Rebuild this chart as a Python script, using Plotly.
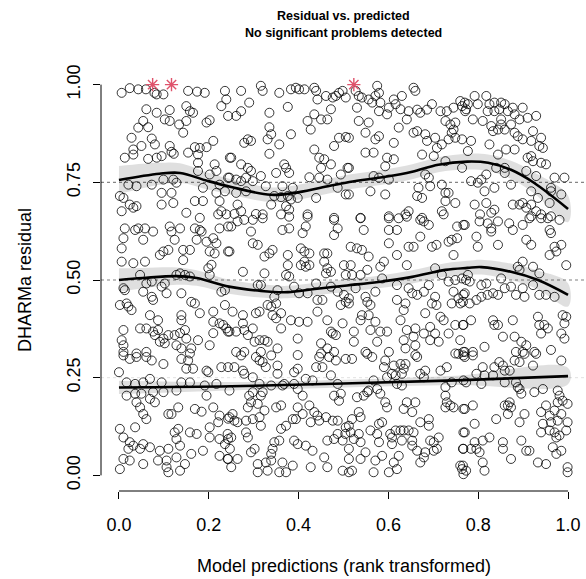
import plotly.graph_objects as go

# Scaled residuals against rank-transformed predictions, grouped by residual range
upper_points = [
    (0.006,0.979),(0.024,0.991),(0.043,0.988),(0.060,0.988),(0.079,0.979),(0.084,0.975),(0.099,0.975),
    (0.154,0.984),(0.174,0.982),(0.191,0.979),(0.236,0.984),(0.239,0.962),(0.228,0.945),(0.243,0.920),
    (0.061,0.937),(0.084,0.928),(0.113,0.935),(0.150,0.945),(0.158,0.932),(0.165,0.928),(0.054,0.907),
    (0.102,0.911),(0.113,0.907),(0.134,0.898),(0.150,0.907),(0.202,0.909),(0.195,0.903),(0.043,0.890),
    (0.065,0.891),(0.143,0.877),(0.028,0.864),(0.073,0.862),(0.080,0.847),(0.050,0.843),(0.113,0.843),
    (0.210,0.856),(0.013,0.813),(0.032,0.821),(0.032,0.834),(0.065,0.810),(0.084,0.813),(0.095,0.817),
    (0.117,0.828),(0.122,0.823),(0.154,0.826),(0.169,0.840),(0.180,0.838),(0.195,0.840),(0.176,0.821),
    (0.247,0.813),(0.176,0.800),(0.213,0.796),(0.217,0.779),(0.202,0.770),(0.176,0.779),(0.243,0.762),
    (0.021,0.744),(0.039,0.740),(0.073,0.744),(0.099,0.757),(0.121,0.757),(0.128,0.749),(0.187,0.736),
    (0.224,0.744),(0.002,0.715),(0.010,0.710),(0.095,0.723),(0.117,0.723),(0.217,0.723),(0.236,0.727),
    (0.024,0.693),(0.032,0.685),(0.039,0.689),(0.095,0.693),(0.121,0.697),(0.169,0.702),(0.187,0.702),
    (0.224,0.702),(0.006,0.676),(0.150,0.672),(0.228,0.676),(0.239,0.668),(0.221,0.668),(0.180,0.659),
    (0.272,0.984),(0.316,0.997),(0.320,0.984),(0.357,0.979),(0.383,0.988),(0.394,0.992),(0.401,0.988),
    (0.413,0.988),(0.435,0.992),(0.439,0.984),(0.442,0.962),(0.461,0.971),(0.476,0.967),(0.483,0.971),
    (0.490,0.979),(0.498,0.984),(0.505,0.967),(0.290,0.954),(0.272,0.932),(0.261,0.920),(0.335,0.928),
    (0.376,0.943),(0.435,0.924),(0.450,0.911),(0.464,0.911),(0.472,0.937),(0.420,0.907),(0.427,0.885),
    (0.335,0.891),(0.339,0.873),(0.331,0.860),(0.287,0.860),(0.294,0.856),(0.279,0.851),(0.357,0.847),
    (0.383,0.873),(0.490,0.864),(0.505,0.866),(0.479,0.843),(0.435,0.834),(0.335,0.823),(0.250,0.813),
    (0.272,0.796),(0.287,0.787),(0.294,0.779),(0.316,0.766),(0.350,0.774),(0.368,0.796),(0.372,0.787),
    (0.379,0.774),(0.446,0.813),(0.457,0.809),(0.450,0.787),(0.472,0.796),(0.509,0.787),(0.424,0.763),
    (0.446,0.762),(0.464,0.757),(0.494,0.770),(0.246,0.762),(0.261,0.757),(0.272,0.753),(0.283,0.762),
    (0.298,0.753),(0.327,0.740),(0.364,0.740),(0.387,0.736),(0.261,0.723),(0.283,0.727),(0.346,0.715),
    (0.361,0.712),(0.376,0.715),(0.383,0.706),(0.398,0.710),(0.439,0.710),(0.487,0.736),(0.505,0.719),
    (0.264,0.693),(0.272,0.676),(0.305,0.669),(0.339,0.693),(0.372,0.689),(0.379,0.680),(0.361,0.668),
    (0.420,0.668),(0.479,0.659),(0.320,0.668),(0.257,0.669),
    (0.527,0.984),(0.534,0.971),(0.575,0.997),(0.579,0.979),(0.571,0.971),(0.541,0.967),(0.556,0.962),
    (0.564,0.954),(0.582,0.954),(0.612,0.962),(0.630,0.971),(0.616,0.950),(0.627,0.937),(0.656,0.992),
    (0.660,0.984),(0.530,0.941),(0.601,0.941),(0.579,0.932),(0.597,0.924),(0.645,0.932),(0.641,0.911),
    (0.664,0.936),(0.671,0.928),(0.697,0.950),(0.686,0.936),(0.716,0.932),(0.730,0.932),(0.745,0.941),
    (0.760,0.958),(0.764,0.945),(0.771,0.932),(0.727,0.907),(0.738,0.898),(0.749,0.903),(0.745,0.885),
    (0.741,0.877),(0.734,0.860),(0.534,0.907),(0.556,0.903),(0.512,0.864),(0.549,0.877),(0.579,0.868),
    (0.571,0.860),(0.612,0.851),(0.623,0.890),(0.656,0.877),(0.664,0.881),(0.682,0.873),(0.686,0.856),
    (0.704,0.864),(0.719,0.847),(0.708,0.838),(0.749,0.864),(0.764,0.860),(0.549,0.826),(0.567,0.826),
    (0.597,0.813),(0.593,0.791),(0.612,0.809),(0.675,0.821),(0.701,0.817),(0.727,0.804),(0.764,0.787),
    (0.512,0.787),(0.567,0.766),(0.579,0.762),(0.601,0.757),(0.682,0.770),(0.690,0.762),(0.693,0.740),
    (0.667,0.736),(0.719,0.744),(0.727,0.723),(0.734,0.723),(0.512,0.719),(0.560,0.727),(0.593,0.719),
    (0.664,0.715),(0.675,0.710),(0.749,0.697),(0.727,0.702),(0.538,0.659),(0.601,0.663),(0.638,0.668),
    (0.645,0.676),(0.719,0.676),(0.723,0.668),(0.675,0.659),
    (0.792,0.971),(0.818,0.971),(0.770,0.954),(0.777,0.950),(0.773,0.937),(0.799,0.950),(0.825,0.950),
    (0.836,0.954),(0.851,0.954),(0.859,0.950),(0.877,0.941),(0.899,0.941),(0.821,0.932),(0.836,0.932),
    (0.847,0.937),(0.866,0.932),(0.881,0.924),(0.788,0.911),(0.810,0.907),(0.851,0.911),(0.851,0.898),
    (0.829,0.894),(0.833,0.881),(0.844,0.885),(0.859,0.885),(0.873,0.898),(0.892,0.911),(0.910,0.915),
    (0.929,0.920),(0.881,0.877),(0.888,0.868),(0.899,0.860),(0.918,0.856),(0.922,0.881),(0.940,0.864),
    (0.936,0.843),(0.944,0.838),(0.784,0.856),(0.825,0.847),(0.777,0.830),(0.844,0.821),(0.862,0.834),
    (0.881,0.834),(0.910,0.813),(0.922,0.804),(0.918,0.817),(0.940,0.800),(0.951,0.796),(0.840,0.787),
    (0.859,0.787),(0.859,0.774),(0.818,0.770),(0.807,0.757),(0.784,0.753),(0.799,0.749),(0.836,0.736),
    (0.814,0.727),(0.873,0.744),(0.907,0.779),(0.929,0.766),(0.970,0.762),(0.992,0.762),(0.962,0.736),
    (0.962,0.727),(0.985,0.719),(0.918,0.727),(0.933,0.710),(0.959,0.697),(0.877,0.693),(0.892,0.693),
    (0.899,0.697),(0.907,0.685),(0.918,0.693),(0.929,0.676),(0.792,0.693),(0.818,0.697),(0.804,0.668),
    (0.829,0.672),(0.836,0.680),(0.918,0.663),(0.940,0.668),(0.962,0.663),
]

middle_points = [
    (0.013,0.632),(0.036,0.628),(0.043,0.632),(0.058,0.632),(0.076,0.624),(0.113,0.637),(0.117,0.624),
    (0.136,0.632),(0.169,0.632),(0.180,0.628),(0.184,0.624),(0.224,0.632),(0.243,0.637),(0.010,0.607),
    (0.054,0.603),(0.124,0.603),(0.173,0.603),(0.195,0.598),(0.210,0.607),(0.217,0.594),(0.006,0.581),
    (0.099,0.573),(0.091,0.564),(0.110,0.577),(0.143,0.577),(0.158,0.577),(0.202,0.573),(0.213,0.568),
    (0.243,0.573),(0.006,0.547),(0.032,0.543),(0.058,0.547),(0.143,0.551),(0.206,0.539),(0.199,0.530),
    (0.047,0.513),(0.128,0.513),(0.136,0.517),(0.147,0.513),(0.158,0.509),(0.202,0.513),(0.010,0.479),
    (0.013,0.474),(0.061,0.491),(0.073,0.496),(0.095,0.483),(0.102,0.491),(0.054,0.470),(0.106,0.466),
    (0.139,0.466),(0.228,0.470),(0.236,0.474),(0.073,0.457),(0.076,0.449),(0.161,0.444),(0.169,0.440),
    (0.002,0.436),(0.017,0.440),(0.021,0.432),(0.028,0.423),(0.069,0.410),(0.180,0.415),(0.210,0.419),
    (0.236,0.436),(0.139,0.410),(0.139,0.397),(0.010,0.372),(0.047,0.376),(0.061,0.376),(0.076,0.368),
    (0.087,0.397),(0.087,0.372),(0.210,0.393),(0.224,0.389),(0.232,0.385),(0.239,0.376),(0.243,0.368),
    (0.110,0.359),(0.124,0.359),(0.136,0.364),(0.147,0.372),(0.150,0.350),(0.176,0.346),(0.210,0.364),
    (0.006,0.346),(0.010,0.333),(0.080,0.359),(0.091,0.342),(0.102,0.338),(0.099,0.350),(0.128,0.333),
    (0.139,0.325),(0.161,0.325),(0.202,0.333),(0.010,0.316),(0.039,0.312),(0.061,0.316),(0.158,0.312),
    (0.250,0.637),(0.264,0.650),(0.279,0.654),(0.298,0.654),(0.320,0.658),(0.379,0.662),(0.420,0.662),
    (0.416,0.637),(0.479,0.654),(0.487,0.632),(0.479,0.615),(0.364,0.628),(0.379,0.632),(0.409,0.620),
    (0.294,0.624),(0.298,0.594),(0.309,0.590),(0.246,0.573),(0.324,0.560),(0.335,0.568),(0.342,0.577),
    (0.376,0.564),(0.376,0.538),(0.405,0.581),(0.413,0.573),(0.424,0.568),(0.457,0.568),(0.464,0.568),
    (0.413,0.547),(0.416,0.534),(0.424,0.538),(0.405,0.538),(0.457,0.547),(0.464,0.530),(0.461,0.517),
    (0.472,0.521),(0.501,0.538),(0.505,0.513),(0.276,0.521),(0.324,0.517),(0.372,0.513),(0.379,0.509),
    (0.309,0.487),(0.316,0.487),(0.353,0.474),(0.346,0.457),(0.390,0.483),(0.401,0.466),(0.420,0.466),
    (0.439,0.491),(0.442,0.449),(0.453,0.449),(0.472,0.483),(0.487,0.470),(0.501,0.462),(0.505,0.444),
    (0.253,0.419),(0.276,0.410),(0.276,0.389),(0.305,0.415),(0.313,0.419),(0.331,0.436),(0.339,0.432),
    (0.350,0.440),(0.342,0.410),(0.350,0.402),(0.361,0.415),(0.383,0.397),(0.401,0.393),(0.420,0.393),
    (0.442,0.419),(0.464,0.397),(0.494,0.436),(0.498,0.389),(0.246,0.368),(0.261,0.368),(0.279,0.372),
    (0.298,0.376),(0.287,0.359),(0.302,0.342),(0.313,0.346),(0.324,0.346),(0.331,0.342),(0.361,0.376),
    (0.398,0.350),(0.450,0.338),(0.464,0.325),(0.472,0.368),(0.476,0.363),(0.483,0.359),(0.261,0.316),
    (0.279,0.316),(0.316,0.316),(0.353,0.325),(0.398,0.308),(0.450,0.312),(0.479,0.316),
    (0.538,0.658),(0.601,0.658),(0.623,0.658),(0.641,0.662),(0.671,0.654),(0.679,0.650),(0.690,0.641),
    (0.545,0.628),(0.601,0.628),(0.619,0.628),(0.671,0.611),(0.753,0.637),(0.767,0.641),(0.516,0.585),
    (0.530,0.581),(0.541,0.577),(0.556,0.560),(0.601,0.594),(0.645,0.585),(0.656,0.585),(0.697,0.585),
    (0.707,0.590),(0.734,0.598),(0.741,0.603),(0.753,0.607),(0.745,0.564),(0.590,0.547),(0.582,0.534),
    (0.619,0.564),(0.641,0.538),(0.516,0.538),(0.519,0.513),(0.538,0.513),(0.553,0.526),(0.719,0.513),
    (0.749,0.500),(0.764,0.504),(0.704,0.530),(0.586,0.504),(0.619,0.487),(0.527,0.479),(0.645,0.479),
    (0.653,0.466),(0.664,0.462),(0.679,0.470),(0.690,0.487),(0.704,0.457),(0.734,0.496),(0.745,0.470),
    (0.756,0.453),(0.767,0.462),(0.512,0.453),(0.512,0.440),(0.549,0.457),(0.571,0.470),(0.553,0.444),
    (0.560,0.436),(0.619,0.449),(0.638,0.440),(0.634,0.423),(0.697,0.440),(0.707,0.436),(0.741,0.440),
    (0.760,0.440),(0.541,0.410),(0.556,0.410),(0.538,0.397),(0.571,0.393),(0.560,0.372),(0.582,0.368),
    (0.597,0.368),(0.627,0.397),(0.641,0.372),(0.660,0.376),(0.682,0.415),(0.716,0.406),(0.723,0.397),
    (0.693,0.380),(0.679,0.363),(0.704,0.363),(0.734,0.363),(0.749,0.385),(0.767,0.385),(0.523,0.368),
    (0.523,0.342),(0.575,0.342),(0.634,0.346),(0.638,0.325),(0.656,0.355),(0.660,0.333),(0.693,0.346),
    (0.712,0.342),(0.760,0.346),(0.549,0.316),(0.601,0.316),(0.660,0.308),(0.749,0.312),(0.767,0.316),
    (0.770,0.641),(0.803,0.650),(0.821,0.645),(0.829,0.632),(0.829,0.624),(0.844,0.650),(0.869,0.645),
    (0.877,0.628),(0.899,0.641),(0.914,0.658),(0.940,0.658),(0.955,0.658),(0.981,0.654),(0.959,0.628),
    (0.962,0.620),(0.796,0.611),(0.799,0.585),(0.844,0.590),(0.907,0.603),(0.918,0.590),(0.970,0.585),
    (0.985,0.590),(0.959,0.564),(0.974,0.573),(0.996,0.538),(0.899,0.547),(0.888,0.534),(0.892,0.526),
    (0.922,0.534),(0.936,0.517),(0.777,0.513),(0.773,0.500),(0.781,0.496),(0.807,0.487),(0.818,0.491),
    (0.851,0.504),(0.859,0.479),(0.873,0.483),(0.884,0.462),(0.899,0.479),(0.903,0.457),(0.922,0.487),
    (0.936,0.462),(0.951,0.462),(0.970,0.457),(0.770,0.466),(0.766,0.444),(0.781,0.440),(0.796,0.449),
    (0.807,0.457),(0.821,0.462),(0.833,0.466),(0.844,0.462),(0.766,0.385),(0.784,0.397),(0.833,0.397),
    (0.836,0.385),(0.844,0.385),(0.877,0.397),(0.933,0.406),(0.936,0.385),(0.947,0.385),(0.955,0.376),
    (0.940,0.363),(0.988,0.410),(0.996,0.406),(0.992,0.389),(0.985,0.363),(0.992,0.350),(0.855,0.355),
    (0.881,0.355),(0.896,0.342),(0.907,0.333),(0.814,0.329),(0.770,0.316),(0.788,0.316),(0.884,0.316),
    (0.899,0.316),(0.925,0.316),(0.962,0.321),
]

lower_points = [
    (0.010,0.307),(0.024,0.298),(0.039,0.303),(0.061,0.303),(0.073,0.294),(0.099,0.285),(0.139,0.298),
    (0.154,0.294),(0.150,0.273),(0.165,0.273),(0.195,0.268),(0.199,0.264),(0.228,0.277),(0.243,0.277),
    (0.000,0.264),(0.017,0.238),(0.036,0.234),(0.054,0.238),(0.069,0.247),(0.095,0.238),(0.139,0.238),
    (0.158,0.238),(0.191,0.230),(0.217,0.234),(0.017,0.204),(0.036,0.209),(0.050,0.209),(0.076,0.213),
    (0.099,0.213),(0.128,0.217),(0.195,0.204),(0.039,0.187),(0.047,0.174),(0.054,0.157),(0.069,0.196),
    (0.080,0.187),(0.061,0.144),(0.110,0.157),(0.117,0.157),(0.132,0.174),(0.169,0.170),(0.184,0.163),
    (0.210,0.174),(0.224,0.153),(0.221,0.136),(0.202,0.123),(0.243,0.145),(0.036,0.123),(0.002,0.119),
    (0.010,0.097),(0.024,0.085),(0.032,0.076),(0.054,0.080),(0.021,0.068),(0.047,0.068),(0.069,0.072),
    (0.091,0.063),(0.110,0.068),(0.124,0.110),(0.132,0.119),(0.128,0.093),(0.136,0.076),(0.158,0.110),
    (0.173,0.106),(0.161,0.055),(0.187,0.063),(0.202,0.097),(0.224,0.093),(0.236,0.080),(0.243,0.093),
    (0.247,0.068),(0.224,0.050),(0.243,0.042),(0.010,0.042),(0.024,0.038),(0.054,0.029),(0.087,0.038),
    (0.106,0.038),(0.106,0.021),(0.128,0.046),(0.110,0.008),(0.136,0.012),(0.147,0.029),(0.002,0.016),
    (0.272,0.307),(0.305,0.303),(0.313,0.294),(0.320,0.290),(0.339,0.307),(0.327,0.277),(0.353,0.281),
    (0.353,0.260),(0.257,0.277),(0.276,0.268),(0.279,0.260),(0.298,0.251),(0.313,0.234),(0.390,0.264),
    (0.398,0.273),(0.416,0.247),(0.431,0.243),(0.439,0.277),(0.453,0.277),(0.446,0.303),(0.468,0.303),
    (0.483,0.294),(0.472,0.256),(0.487,0.234),(0.505,0.298),(0.246,0.217),(0.290,0.204),(0.298,0.213),
    (0.316,0.204),(0.320,0.213),(0.294,0.187),(0.287,0.174),(0.309,0.183),(0.339,0.230),(0.364,0.230),
    (0.368,0.234),(0.390,0.234),(0.398,0.221),(0.409,0.204),(0.479,0.204),(0.494,0.209),(0.490,0.191),
    (0.350,0.174),(0.361,0.179),(0.398,0.174),(0.424,0.179),(0.435,0.162),(0.442,0.153),(0.461,0.149),
    (0.253,0.157),(0.246,0.149),(0.257,0.140),(0.264,0.136),(0.283,0.140),(0.298,0.144),(0.313,0.149),
    (0.324,0.166),(0.316,0.127),(0.387,0.144),(0.394,0.144),(0.409,0.157),(0.427,0.136),(0.446,0.140),
    (0.476,0.140),(0.487,0.140),(0.505,0.123),(0.361,0.119),(0.372,0.127),(0.242,0.106),(0.250,0.097),
    (0.283,0.110),(0.287,0.097),(0.464,0.089),(0.479,0.093),(0.498,0.089),(0.487,0.106),(0.346,0.085),
    (0.357,0.089),(0.390,0.089),(0.398,0.080),(0.416,0.076),(0.431,0.063),(0.302,0.068),(0.294,0.059),
    (0.342,0.068),(0.339,0.055),(0.242,0.042),(0.264,0.042),(0.309,0.029),(0.327,0.033),(0.339,0.038),
    (0.364,0.033),(0.387,0.025),(0.457,0.046),(0.464,0.021),(0.498,0.012),(0.250,0.021),(0.309,0.008),
    (0.331,0.012),(0.357,0.008),(0.372,0.008),(0.427,0.021),
    (0.519,0.298),(0.553,0.311),(0.564,0.303),(0.593,0.294),(0.590,0.277),(0.612,0.281),(0.627,0.285),
    (0.638,0.285),(0.634,0.273),(0.630,0.260),(0.616,0.256),(0.608,0.260),(0.597,0.251),(0.619,0.234),
    (0.630,0.230),(0.664,0.303),(0.671,0.260),(0.682,0.268),(0.679,0.251),(0.716,0.268),(0.730,0.277),
    (0.756,0.311),(0.767,0.307),(0.727,0.226),(0.741,0.238),(0.767,0.243),(0.567,0.243),(0.553,0.213),
    (0.530,0.200),(0.545,0.204),(0.556,0.217),(0.575,0.221),(0.582,0.209),(0.593,0.187),(0.597,0.174),
    (0.641,0.187),(0.660,0.187),(0.634,0.170),(0.653,0.162),(0.727,0.204),(0.730,0.187),(0.727,0.174),
    (0.738,0.179),(0.745,0.174),(0.767,0.170),(0.534,0.162),(0.538,0.149),(0.519,0.144),(0.512,0.127),
    (0.504,0.106),(0.516,0.110),(0.534,0.106),(0.523,0.093),(0.538,0.085),(0.512,0.068),(0.512,0.042),
    (0.549,0.059),(0.538,0.042),(0.560,0.115),(0.579,0.132),(0.586,0.136),(0.575,0.106),(0.579,0.085),
    (0.604,0.106),(0.608,0.097),(0.616,0.115),(0.627,0.115),(0.634,0.115),(0.645,0.115),(0.656,0.110),
    (0.671,0.136),(0.690,0.144),(0.690,0.127),(0.653,0.089),(0.653,0.076),(0.664,0.063),(0.630,0.089),
    (0.608,0.080),(0.693,0.089),(0.701,0.085),(0.712,0.097),(0.708,0.068),(0.701,0.063),(0.682,0.059),
    (0.679,0.046),(0.671,0.033),(0.623,0.050),(0.612,0.033),(0.619,0.016),(0.601,0.008),(0.571,0.038),
    (0.586,0.050),(0.567,0.008),(0.512,0.008),(0.519,0.012),(0.767,0.110),(0.767,0.068),(0.760,0.025),
    (0.764,0.016),(0.767,0.003),
    (0.770,0.303),(0.788,0.307),(0.881,0.294),(0.892,0.290),(0.903,0.311),(0.922,0.281),(0.929,0.311),
    (0.985,0.294),(0.810,0.277),(0.796,0.260),(0.814,0.256),(0.833,0.256),(0.836,0.277),(0.847,0.290),
    (0.855,0.281),(0.859,0.268),(0.870,0.268),(0.859,0.238),(0.807,0.234),(0.773,0.238),(0.884,0.238),
    (0.888,0.226),(0.896,0.209),(0.892,0.221),(0.925,0.213),(0.944,0.221),(0.977,0.217),(0.981,0.204),
    (0.977,0.187),(0.988,0.191),(0.999,0.183),(0.870,0.187),(0.866,0.179),(0.859,0.179),(0.873,0.174),
    (0.866,0.157),(0.788,0.179),(0.770,0.170),(0.951,0.179),(0.940,0.162),(0.959,0.153),(0.970,0.166),
    (0.985,0.157),(0.840,0.144),(0.903,0.157),(0.892,0.136),(0.944,0.132),(0.940,0.110),(0.959,0.115),
    (0.970,0.110),(0.974,0.097),(0.981,0.102),(0.996,0.115),(0.999,0.136),(0.977,0.140),(0.962,0.136),
    (0.792,0.132),(0.770,0.110),(0.825,0.097),(0.810,0.089),(0.792,0.085),(0.796,0.068),(0.784,0.068),
    (0.803,0.059),(0.766,0.068),(0.855,0.085),(0.855,0.068),(0.896,0.089),(0.907,0.063),(0.914,0.063),
    (0.966,0.072),(0.974,0.055),(0.985,0.063),(0.873,0.042),(0.810,0.033),(0.766,0.025),(0.773,0.012),
    (0.814,0.012),(0.933,0.033),(0.951,0.029),(0.999,0.021),(0.999,0.008),
]

# Residuals flagged as simulation outliers (value 1)
outlier_x = [0.075, 0.117, 0.523]
outlier_y = [1.0, 1.0, 1.0]

# Fitted quantile splines with their confidence half-widths
q75_x = [0.0, 0.09, 0.136, 0.196, 0.25, 0.338, 0.391, 0.449, 0.513, 0.593, 0.653, 0.711, 0.776, 0.822, 0.873, 0.924, 1.0]
q75_y = [0.756, 0.772, 0.774, 0.754, 0.738, 0.718, 0.723, 0.736, 0.751, 0.764, 0.777, 0.795, 0.803, 0.800, 0.782, 0.749, 0.682]
q75_w = [0.036, 0.028, 0.025, 0.022, 0.020, 0.019, 0.019, 0.019, 0.019, 0.019, 0.019, 0.019, 0.020, 0.021, 0.023, 0.027, 0.034]

q50_x = [0.0, 0.053, 0.129, 0.173, 0.245, 0.316, 0.376, 0.436, 0.508, 0.578, 0.653, 0.727, 0.776, 0.807, 0.873, 0.933, 1.0]
q50_y = [0.500, 0.505, 0.510, 0.505, 0.483, 0.472, 0.469, 0.477, 0.486, 0.495, 0.508, 0.526, 0.531, 0.533, 0.521, 0.500, 0.462]
q50_w = [0.030, 0.026, 0.022, 0.020, 0.018, 0.017, 0.016, 0.016, 0.016, 0.016, 0.017, 0.017, 0.018, 0.019, 0.021, 0.024, 0.030]

q25_x = [0.0, 0.25, 0.5, 0.75, 1.0]
q25_y = [0.225, 0.228, 0.235, 0.243, 0.254]
q25_w = [0.017, 0.011, 0.010, 0.012, 0.021]

# Horizontal reference levels and how strongly each one shows
reference_levels = [0.25, 0.5, 0.75]
reference_alpha = [0.12, 0.5, 0.6]

x_ticks = [0.0, 0.2, 0.4, 0.6, 0.8, 1.0]
x_tick_text = ["0.0", "0.2", "0.4", "0.6", "0.8", "1.0"]
y_ticks = [0.0, 0.25, 0.5, 0.75, 1.0]
y_tick_text = ["0.00", "0.25", "0.50", "0.75", "1.00"]

FONT = "Arial, Liberation Sans, Helvetica, sans-serif"

fig = go.Figure()

all_points = upper_points + middle_points + lower_points
fig.add_trace(go.Scatter(
    x=[p[0] for p in all_points], y=[p[1] for p in all_points],
    mode="markers",
    marker=dict(symbol="circle-open", size=9, color="rgba(0,0,0,0.78)", line=dict(width=1)),
    hoverinfo="skip", showlegend=False,
))

fig.add_trace(go.Scatter(
    x=outlier_x, y=outlier_y, mode="markers",
    marker=dict(symbol="asterisk-open", size=11, color="#DF536B", line=dict(width=1.4, color="#DF536B")),
    hoverinfo="skip", showlegend=False,
))

for level, alpha in zip(reference_levels, reference_alpha):
    fig.add_shape(type="line", xref="paper", yref="y", x0=0, x1=1, y0=level, y1=level,
                  line=dict(color=f"rgba(0,0,0,{alpha})", width=1, dash="dot"), layer="above")

for qx, qy, qw in [(q25_x, q25_y, q25_w), (q50_x, q50_y, q50_w), (q75_x, q75_y, q75_w)]:
    hi = [y + w for y, w in zip(qy, qw)]
    lo = [y - w for y, w in zip(qy, qw)]
    fig.add_trace(go.Scatter(
        x=qx + qx[::-1], y=hi + lo[::-1], fill="toself",
        fillcolor="rgba(0,0,0,0.125)", line=dict(width=0, shape="spline"),
        mode="lines", hoverinfo="skip", showlegend=False,
    ))
    fig.add_trace(go.Scatter(
        x=qx, y=qy, mode="lines", line=dict(color="black", width=2.6, shape="spline"),
        hoverinfo="skip", showlegend=False,
    ))

# Axis lines span only the first to last tick
fig.add_shape(type="line", xref="x", yref="paper", x0=0, x1=1, y0=0, y1=0,
              line=dict(color="black", width=1))
fig.add_shape(type="line", xref="paper", yref="y", x0=0, x1=0, y0=0, y1=1,
              line=dict(color="black", width=1))

annotations = [
    dict(text="<b>Residual vs. predicted</b>", xref="paper", yref="paper", x=0.5, y=1,
         yshift=53, showarrow=False, font=dict(size=12.5, family=FONT, color="black"),
         xanchor="center", yanchor="middle"),
    dict(text="<b>No significant problems detected</b>", xref="paper", yref="paper", x=0.5, y=1,
         yshift=36, showarrow=False, font=dict(size=12.5, family=FONT, color="black"),
         xanchor="center", yanchor="middle"),
    dict(text="Model predictions (rank transformed)", xref="paper", yref="paper", x=0.5, y=0,
         yshift=-75, showarrow=False, font=dict(size=18, family=FONT, color="black"),
         xanchor="center", yanchor="middle"),
    dict(text="DHARMa residual", xref="paper", yref="paper", x=0, y=0.5, xshift=-76,
         textangle=-90, showarrow=False, font=dict(size=18, family=FONT, color="black"),
         xanchor="center", yanchor="middle"),
]

fig.update_layout(
    width=586, height=579,
    margin=dict(l=101, r=0, t=69, b=88, autoexpand=False),
    paper_bgcolor="white", plot_bgcolor="white",
    font=dict(family=FONT, color="black"),
    annotations=annotations,
    xaxis=dict(range=[-0.04, 1.04], tickvals=x_ticks, ticktext=x_tick_text,
               ticks="outside", ticklen=7, tickwidth=1, tickcolor="black",
               showgrid=False, zeroline=False, showline=False,
               tickfont=dict(size=18, family=FONT, color="black"), ticklabelstandoff=10),
    yaxis=dict(range=[-0.04, 1.04], tickvals=y_ticks, ticktext=y_tick_text,
               ticks="outside", ticklen=7, tickwidth=1, tickcolor="black",
               showgrid=False, zeroline=False, showline=False, tickangle=-90,
               tickfont=dict(size=18, family=FONT, color="black"), ticklabelstandoff=6),
)

fig.write_html("out.html")
